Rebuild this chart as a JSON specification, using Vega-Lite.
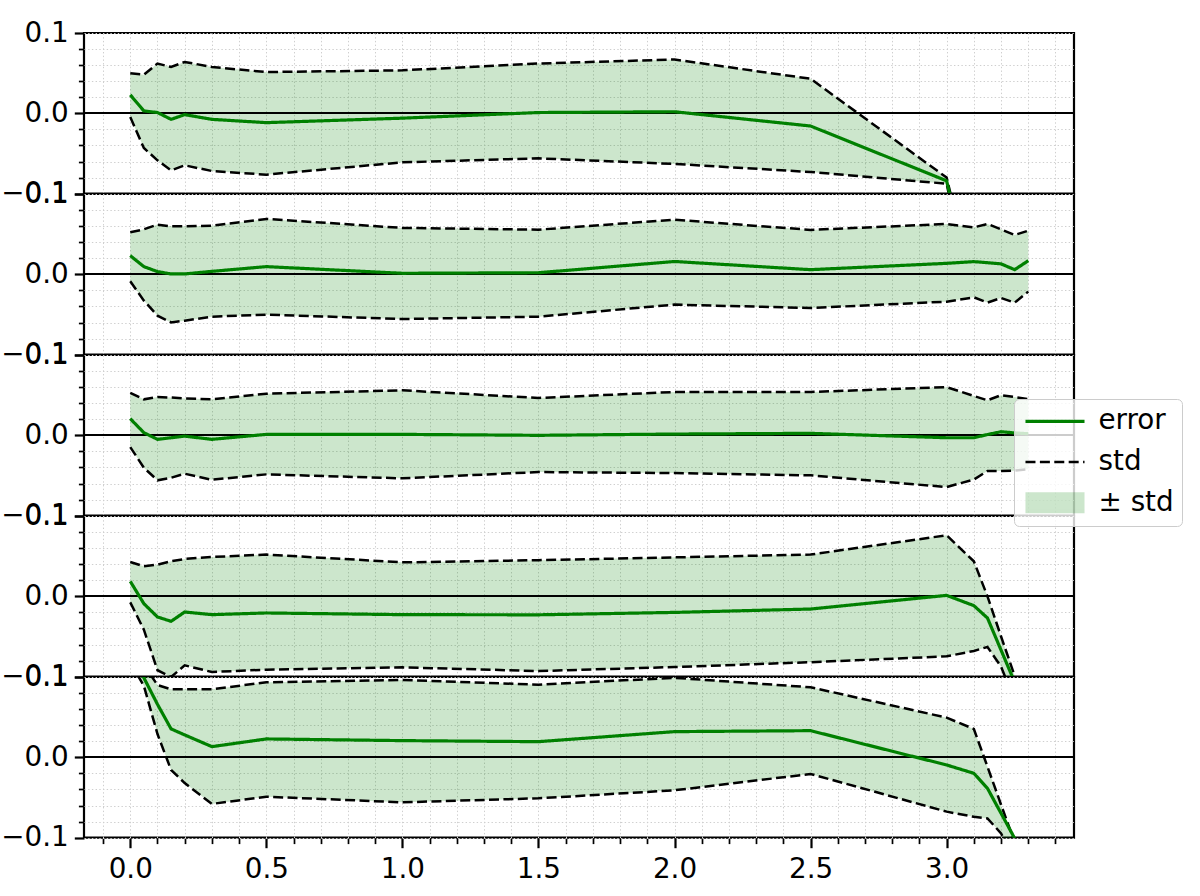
{
  "$schema": "https://vega.github.io/schema/vega-lite/v6.json",
  "padding": {"left": 0, "top": 19, "right": 0, "bottom": 0},
  "bounds": "flush",
  "data": {
    "values": [
      {"p": 1, "x": 0, "e": 0.023, "lo": -0.0046, "hi": 0.050},
      {"p": 1, "x": 0.05, "e": 0.003, "lo": -0.0432, "hi": 0.048},
      {"p": 1, "x": 0.1, "e": 0.001, "lo": -0.0585, "hi": 0.062},
      {"p": 1, "x": 0.15, "e": -0.0075, "lo": -0.071, "hi": 0.0577},
      {"p": 1, "x": 0.2, "e": -0.0016, "lo": -0.0647, "hi": 0.064},
      {"p": 1, "x": 0.3, "e": -0.0075, "lo": -0.0718, "hi": 0.0577},
      {"p": 1, "x": 0.5, "e": -0.0116, "lo": -0.0763, "hi": 0.0514},
      {"p": 1, "x": 1.0, "e": -0.006, "lo": -0.061, "hi": 0.0535},
      {"p": 1, "x": 1.5, "e": 0.001, "lo": -0.056, "hi": 0.062},
      {"p": 1, "x": 2.0, "e": 0.002, "lo": -0.063, "hi": 0.067},
      {"p": 1, "x": 2.5, "e": -0.0158, "lo": -0.073, "hi": 0.043},
      {"p": 1, "x": 3.0, "e": -0.084, "lo": -0.0876, "hi": -0.080},
      {"p": 1, "x": 3.1, "e": -0.23, "lo": -0.25, "hi": -0.22},
      {"p": 1, "x": 3.15, "e": -0.3, "lo": -0.32, "hi": -0.28},
      {"p": 1, "x": 3.2, "e": -0.35, "lo": -0.37, "hi": -0.33},
      {"p": 1, "x": 3.25, "e": -0.4, "lo": -0.42, "hi": -0.38},
      {"p": 1, "x": 3.3, "e": -0.45, "lo": -0.47, "hi": -0.43},

      {"p": 2, "x": 0, "e": 0.0233, "lo": -0.0087, "hi": 0.0523},
      {"p": 2, "x": 0.05, "e": 0.0096, "lo": -0.0327, "hi": 0.056},
      {"p": 2, "x": 0.1, "e": 0.0034, "lo": -0.0514, "hi": 0.0619},
      {"p": 2, "x": 0.15, "e": 0.0005, "lo": -0.0598, "hi": 0.0598},
      {"p": 2, "x": 0.2, "e": 0.0005, "lo": -0.0577, "hi": 0.0598},
      {"p": 2, "x": 0.3, "e": 0.0037, "lo": -0.0527, "hi": 0.0606},
      {"p": 2, "x": 0.5, "e": 0.0096, "lo": -0.0502, "hi": 0.069},
      {"p": 2, "x": 1.0, "e": 0.0013, "lo": -0.0556, "hi": 0.0578},
      {"p": 2, "x": 1.5, "e": 0.002, "lo": -0.0527, "hi": 0.0556},
      {"p": 2, "x": 2.0, "e": 0.016, "lo": -0.0377, "hi": 0.068},
      {"p": 2, "x": 2.5, "e": 0.0058, "lo": -0.0419, "hi": 0.0553},
      {"p": 2, "x": 3.0, "e": 0.0137, "lo": -0.034, "hi": 0.0627},
      {"p": 2, "x": 3.1, "e": 0.0158, "lo": -0.0286, "hi": 0.0585},
      {"p": 2, "x": 3.15, "e": 0.0145, "lo": -0.0352, "hi": 0.0627},
      {"p": 2, "x": 3.2, "e": 0.013, "lo": -0.0294, "hi": 0.056},
      {"p": 2, "x": 3.25, "e": 0.0058, "lo": -0.0352, "hi": 0.049},
      {"p": 2, "x": 3.3, "e": 0.017, "lo": -0.0215, "hi": 0.0544},

      {"p": 3, "x": 0, "e": 0.0207, "lo": -0.0146, "hi": 0.053},
      {"p": 3, "x": 0.05, "e": 0.0033, "lo": -0.0403, "hi": 0.0448},
      {"p": 3, "x": 0.1, "e": -0.005, "lo": -0.056, "hi": 0.0477},
      {"p": 3, "x": 0.15, "e": -0.003, "lo": -0.0528, "hi": 0.047},
      {"p": 3, "x": 0.2, "e": -0.001, "lo": -0.0478, "hi": 0.046},
      {"p": 3, "x": 0.3, "e": -0.005, "lo": -0.0553, "hi": 0.0448},
      {"p": 3, "x": 0.5, "e": 0.0012, "lo": -0.0486, "hi": 0.0518},
      {"p": 3, "x": 1.0, "e": 0.0012, "lo": -0.0535, "hi": 0.056},
      {"p": 3, "x": 1.5, "e": 0.0, "lo": -0.0457, "hi": 0.0465},
      {"p": 3, "x": 2.0, "e": 0.0016, "lo": -0.047, "hi": 0.054},
      {"p": 3, "x": 2.5, "e": 0.0025, "lo": -0.0498, "hi": 0.054},
      {"p": 3, "x": 3.0, "e": -0.003, "lo": -0.0644, "hi": 0.060},
      {"p": 3, "x": 3.1, "e": -0.003, "lo": -0.055, "hi": 0.049},
      {"p": 3, "x": 3.15, "e": 0.001, "lo": -0.0444, "hi": 0.0436},
      {"p": 3, "x": 3.2, "e": 0.0045, "lo": -0.0444, "hi": 0.050},
      {"p": 3, "x": 3.25, "e": 0.003, "lo": -0.044, "hi": 0.0477},
      {"p": 3, "x": 3.3, "e": 0.002, "lo": -0.042, "hi": 0.045},

      {"p": 4, "x": 0, "e": 0.0187, "lo": -0.0075, "hi": 0.0427},
      {"p": 4, "x": 0.05, "e": -0.0091, "lo": -0.0415, "hi": 0.0374},
      {"p": 4, "x": 0.1, "e": -0.0257, "lo": -0.092, "hi": 0.0394},
      {"p": 4, "x": 0.15, "e": -0.0311, "lo": -0.1004, "hi": 0.0436},
      {"p": 4, "x": 0.2, "e": -0.0195, "lo": -0.0859, "hi": 0.0465},
      {"p": 4, "x": 0.3, "e": -0.0228, "lo": -0.0942, "hi": 0.049},
      {"p": 4, "x": 0.5, "e": -0.0207, "lo": -0.0913, "hi": 0.052},
      {"p": 4, "x": 1.0, "e": -0.0228, "lo": -0.0884, "hi": 0.0423},
      {"p": 4, "x": 1.5, "e": -0.023, "lo": -0.093, "hi": 0.045},
      {"p": 4, "x": 2.0, "e": -0.020, "lo": -0.088, "hi": 0.0485},
      {"p": 4, "x": 2.5, "e": -0.0158, "lo": -0.082, "hi": 0.052},
      {"p": 4, "x": 3.0, "e": 0.0012, "lo": -0.0747, "hi": 0.076},
      {"p": 4, "x": 3.1, "e": -0.0116, "lo": -0.068, "hi": 0.0436},
      {"p": 4, "x": 3.15, "e": -0.027, "lo": -0.063, "hi": 0.0},
      {"p": 4, "x": 3.2, "e": -0.067, "lo": -0.0875, "hi": -0.050},
      {"p": 4, "x": 3.25, "e": -0.107, "lo": -0.13, "hi": -0.099},
      {"p": 4, "x": 3.3, "e": -0.2, "lo": -0.25, "hi": -0.2},

      {"p": 5, "x": 0, "e": 0.14, "lo": 0.118, "hi": 0.17},
      {"p": 5, "x": 0.05, "e": 0.099, "lo": 0.089, "hi": 0.115},
      {"p": 5, "x": 0.1, "e": 0.066, "lo": 0.029, "hi": 0.09},
      {"p": 5, "x": 0.15, "e": 0.0354, "lo": -0.0157, "hi": 0.0847},
      {"p": 5, "x": 0.2, "e": 0.0279, "lo": -0.032, "hi": 0.0847},
      {"p": 5, "x": 0.3, "e": 0.0133, "lo": -0.058, "hi": 0.0847},
      {"p": 5, "x": 0.5, "e": 0.0229, "lo": -0.049, "hi": 0.0934},
      {"p": 5, "x": 1.0, "e": 0.0208, "lo": -0.056, "hi": 0.0963},
      {"p": 5, "x": 1.5, "e": 0.0195, "lo": -0.051, "hi": 0.0905},
      {"p": 5, "x": 2.0, "e": 0.032, "lo": -0.041, "hi": 0.099},
      {"p": 5, "x": 2.5, "e": 0.0332, "lo": -0.0207, "hi": 0.0872},
      {"p": 5, "x": 3.0, "e": -0.0095, "lo": -0.0676, "hi": 0.0494},
      {"p": 5, "x": 3.1, "e": -0.0199, "lo": -0.074, "hi": 0.0353},
      {"p": 5, "x": 3.15, "e": -0.0386, "lo": -0.076, "hi": -0.0116},
      {"p": 5, "x": 3.2, "e": -0.0697, "lo": -0.0946, "hi": -0.059},
      {"p": 5, "x": 3.25, "e": -0.1008, "lo": -0.13, "hi": -0.106},
      {"p": 5, "x": 3.3, "e": -0.2, "lo": -0.25, "hi": -0.2}
    ]
  },
  "facet": {
    "row": {"field": "p", "type": "ordinal", "header": {"labels": false, "title": null}, "title": null}
  },
  "spacing": {"row": 0},
  "spec": {
    "width": 990,
    "height": 160.67,
    "encoding": {
      "x": {
        "field": "x", "type": "quantitative", "title": null,
        "scale": {"domain": [-0.17, 3.468], "nice": false, "zero": false},
        "axis": {
          "values": [-0.1, 0, 0.1, 0.2, 0.3, 0.4, 0.5, 0.6, 0.7, 0.8, 0.9, 1, 1.1, 1.2, 1.3, 1.4, 1.5, 1.6, 1.7, 1.8, 1.9, 2, 2.1, 2.2, 2.3, 2.4, 2.5, 2.6, 2.7, 2.8, 2.9, 3, 3.1, 3.2, 3.3, 3.4],
          "format": ".1f",
          "labelExpr": "abs(datum.value * 2 - round(datum.value * 2)) < 0.001 ? datum.label : ''",
          "tickSize": {"condition": {"test": "abs(datum.value * 2 - round(datum.value * 2)) < 0.001", "value": 9.7}, "value": 5.6},
          "tickWidth": {"condition": {"test": "abs(datum.value * 2 - round(datum.value * 2)) < 0.001", "value": 2.2}, "value": 1.7},
          "labelPadding": 7.5,
          "labelFlush": false,
          "labelOverlap": false
        }
      }
    },
    "layer": [
      {
        "mark": {"type": "area", "clip": true, "color": "#008000", "opacity": 0.2},
        "encoding": {
          "y": {
            "field": "lo", "type": "quantitative", "title": null,
            "scale": {"domain": [-0.1, 0.1], "nice": false, "zero": false},
            "axis": {
              "values": [-0.1, -0.08, -0.06, -0.04, -0.02, 0, 0.02, 0.04, 0.06, 0.08, 0.1],
              "format": ".1f",
              "labelExpr": "abs(datum.value * 10 - round(datum.value * 10)) < 0.001 ? datum.label : ''",
              "tickSize": {"condition": {"test": "abs(datum.value * 10 - round(datum.value * 10)) < 0.001", "value": 9.7}, "value": 5.6},
              "tickWidth": {"condition": {"test": "abs(datum.value * 10 - round(datum.value * 10)) < 0.001", "value": 2.2}, "value": 1.7},
              "labelPadding": 6,
              "labelOverlap": false,
              "labelFlush": false
            }
          },
          "y2": {"field": "hi"}
        }
      },
      {
        "mark": {"type": "rule", "color": "black", "strokeWidth": 1.2},
        "encoding": {
          "x": {"value": 0}, "x2": {"value": 990},
          "y": {
            "datum": 0, "type": "quantitative", "title": null,
            "axis": {
              "values": [-0.1, -0.08, -0.06, -0.04, -0.02, 0, 0.02, 0.04, 0.06, 0.08, 0.1],
              "format": ".1f",
              "labelExpr": "abs(datum.value * 10 - round(datum.value * 10)) < 0.001 ? datum.label : ''",
              "tickSize": {"condition": {"test": "abs(datum.value * 10 - round(datum.value * 10)) < 0.001", "value": 9.7}, "value": 5.6},
              "tickWidth": {"condition": {"test": "abs(datum.value * 10 - round(datum.value * 10)) < 0.001", "value": 2.2}, "value": 1.7},
              "labelPadding": 6,
              "labelOverlap": false,
              "labelFlush": false
            }
          }
        }
      },
      {
        "mark": {"type": "line", "clip": true, "color": "black", "strokeWidth": 2.5, "strokeDash": [10, 4.4]},
        "encoding": {
          "y": {
            "field": "hi", "type": "quantitative", "title": null,
            "axis": {
              "values": [-0.1, -0.08, -0.06, -0.04, -0.02, 0, 0.02, 0.04, 0.06, 0.08, 0.1],
              "format": ".1f",
              "labelExpr": "abs(datum.value * 10 - round(datum.value * 10)) < 0.001 ? datum.label : ''",
              "tickSize": {"condition": {"test": "abs(datum.value * 10 - round(datum.value * 10)) < 0.001", "value": 9.7}, "value": 5.6},
              "tickWidth": {"condition": {"test": "abs(datum.value * 10 - round(datum.value * 10)) < 0.001", "value": 2.2}, "value": 1.7},
              "labelPadding": 6,
              "labelOverlap": false,
              "labelFlush": false
            }
          }
        }
      },
      {
        "mark": {"type": "line", "clip": true, "color": "black", "strokeWidth": 2.5, "strokeDash": [10, 4.4]},
        "encoding": {
          "y": {
            "field": "lo", "type": "quantitative", "title": null,
            "axis": {
              "values": [-0.1, -0.08, -0.06, -0.04, -0.02, 0, 0.02, 0.04, 0.06, 0.08, 0.1],
              "format": ".1f",
              "labelExpr": "abs(datum.value * 10 - round(datum.value * 10)) < 0.001 ? datum.label : ''",
              "tickSize": {"condition": {"test": "abs(datum.value * 10 - round(datum.value * 10)) < 0.001", "value": 9.7}, "value": 5.6},
              "tickWidth": {"condition": {"test": "abs(datum.value * 10 - round(datum.value * 10)) < 0.001", "value": 2.2}, "value": 1.7},
              "labelPadding": 6,
              "labelOverlap": false,
              "labelFlush": false
            }
          }
        }
      },
      {
        "mark": {"type": "line", "clip": true},
        "encoding": {
          "y": {
            "field": "e", "type": "quantitative", "title": null,
            "axis": {
              "values": [-0.1, -0.08, -0.06, -0.04, -0.02, 0, 0.02, 0.04, 0.06, 0.08, 0.1],
              "format": ".1f",
              "labelExpr": "abs(datum.value * 10 - round(datum.value * 10)) < 0.001 ? datum.label : ''",
              "tickSize": {"condition": {"test": "abs(datum.value * 10 - round(datum.value * 10)) < 0.001", "value": 9.7}, "value": 5.6},
              "tickWidth": {"condition": {"test": "abs(datum.value * 10 - round(datum.value * 10)) < 0.001", "value": 2.2}, "value": 1.7},
              "labelPadding": 6,
              "labelOverlap": false,
              "labelFlush": false
            }
          },
          "color": {
            "datum": "error",
            "scale": {"domain": ["error", "std", "± std"], "range": ["#008000", "#000000", "#008000"]},
            "legend": {"title": null, "orient": "none", "legendX": 930, "legendY": 366, "padding": 8, "fillColor": "rgba(255,255,255,0.8)", "strokeColor": "#cccccc", "cornerRadius": 5, "labelFont": "DejaVu Sans", "labelFontSize": 27.8, "labelColor": "black", "labelOffset": 21, "symbolOffset": 10.5, "symbolType": "M-2.46,0H2.46", "symbolSize": 576, "clipHeight": 28.8, "rowPadding": 11.7}
          },
          "strokeDash": {
            "datum": "error",
            "scale": {"domain": ["error", "std", "± std"], "range": [[1, 0], [10, 4.4], [1, 0]]},
            "legend": {"title": null, "orient": "none", "legendX": 930, "legendY": 366, "padding": 8, "fillColor": "rgba(255,255,255,0.8)", "strokeColor": "#cccccc", "cornerRadius": 5, "labelFont": "DejaVu Sans", "labelFontSize": 27.8, "labelColor": "black", "labelOffset": 21, "symbolOffset": 10.5, "symbolType": "M-2.46,0H2.46", "symbolSize": 576, "clipHeight": 28.8, "rowPadding": 11.7}
          },
          "strokeWidth": {
            "datum": "error",
            "scale": {"type": "ordinal", "domain": ["error", "std", "± std"], "range": [3.2, 2.5, 21]},
            "legend": {"title": null, "orient": "none", "legendX": 930, "legendY": 366, "padding": 8, "fillColor": "rgba(255,255,255,0.8)", "strokeColor": "#cccccc", "cornerRadius": 5, "labelFont": "DejaVu Sans", "labelFontSize": 27.8, "labelColor": "black", "labelOffset": 21, "symbolOffset": 10.5, "symbolType": "M-2.46,0H2.46", "symbolSize": 576, "clipHeight": 28.8, "rowPadding": 11.7}
          },
          "opacity": {
            "datum": "error",
            "scale": {"type": "ordinal", "domain": ["error", "std", "± std"], "range": [1, 1, 0.2]},
            "legend": {"title": null, "orient": "none", "legendX": 930, "legendY": 366, "padding": 8, "fillColor": "rgba(255,255,255,0.8)", "strokeColor": "#cccccc", "cornerRadius": 5, "labelFont": "DejaVu Sans", "labelFontSize": 27.8, "labelColor": "black", "labelOffset": 21, "symbolOffset": 10.5, "symbolType": "M-2.46,0H2.46", "symbolSize": 576, "clipHeight": 28.8, "rowPadding": 11.7}
          }
        }
      }
    ]
  },
  "config": {
    "font": "DejaVu Sans",
    "view": {"stroke": "black", "strokeWidth": 2.2},
    "axis": {
      "labelFont": "DejaVu Sans",
      "labelFontSize": 27.8,
      "labelColor": "black",
      "labelPadding": 10,
      "labelOverlap": false,
      "tickColor": "black",
      "domain": false,
      "gridColor": "#cfcfcf",
      "gridDash": [1.4, 2.3],
      "gridWidth": 1
    }
  }
}
